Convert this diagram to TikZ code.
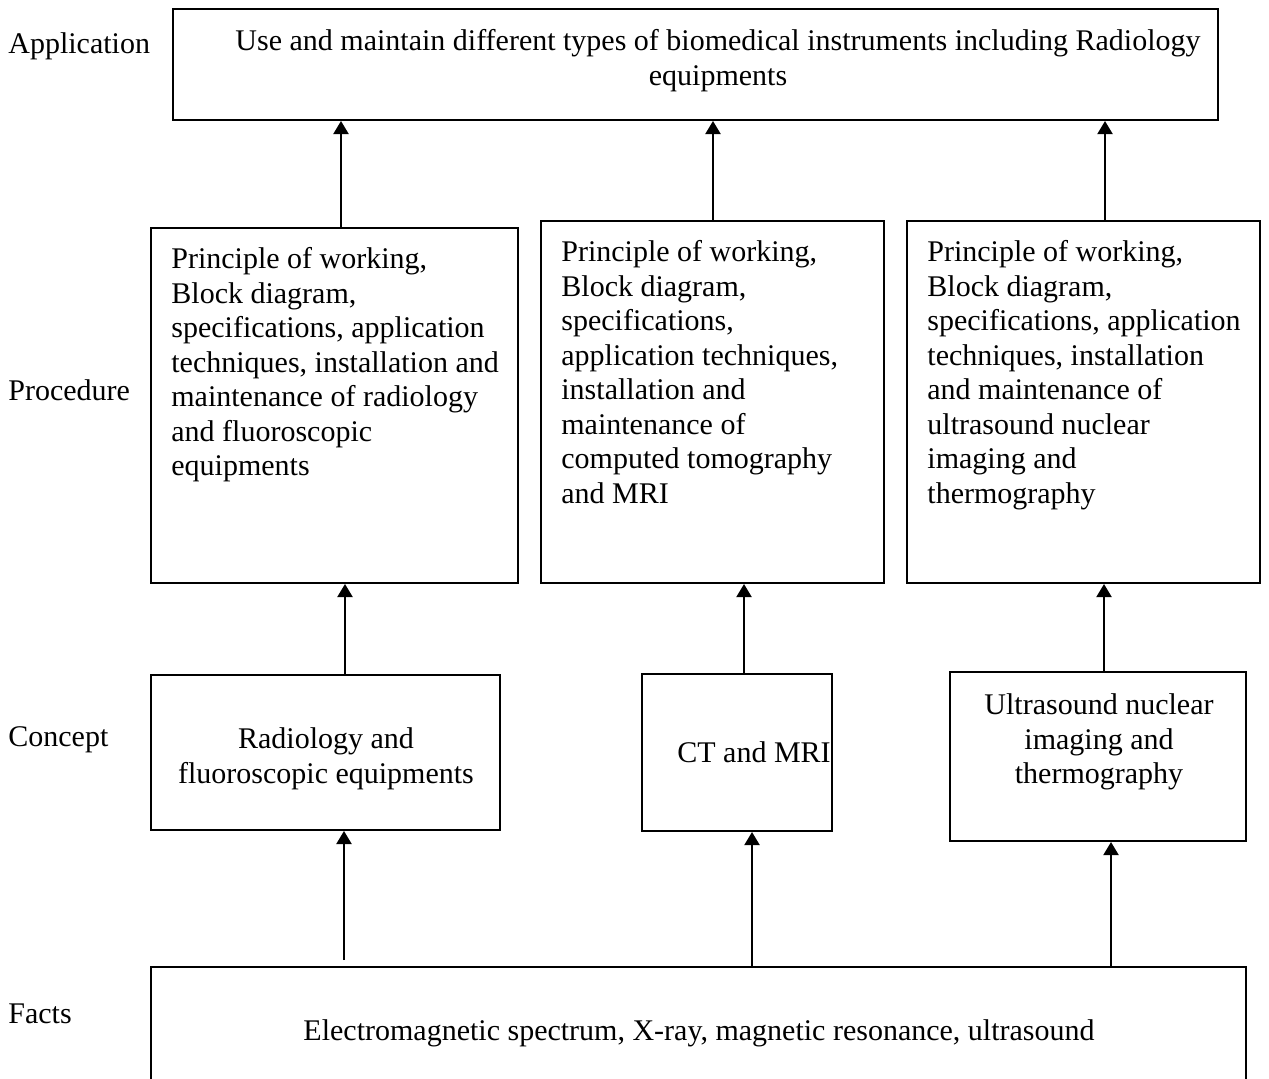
\documentclass[tikz,border=0pt]{standalone}
\usepackage{fontspec}
\setmainfont{Liberation Serif}
\usetikzlibrary{arrows.meta,fit}
\begin{document}
\begin{tikzpicture}[x=0.5pt,y=-0.5pt,
  box/.style={draw, line width=1pt, inner sep=0pt},
  arr/.style={line width=1pt, -{Triangle[length=6.5pt,width=7.5pt]}},
  txt/.style={inner sep=0pt, font=\fontsize{15}{17.25}\selectfont},
  lefttxt/.style={txt, anchor=north west, align=left},
  ctrtxt/.style={txt, anchor=north, align=center},
  lbl/.style={txt, anchor=base west}]
\useasboundingbox (0,0) rectangle (1269,1078);
\clip (0,0) rectangle (1269,1078);

% row labels
\node[lbl] (lapp) at (8,53) {Application};
\node[lbl] (lproc) at (8,400) {Procedure};
\node[lbl] (lconc) at (8,746) {Concept};
\node[lbl] (lfact) at (8,1023) {Facts};

% boxes
\node[box, fit={(173,9) (1218,120)}] (app) {};
\node[box, fit={(151,228) (518,583)}] (p1) {};
\node[box, fit={(541,221) (884,583)}] (p2) {};
\node[box, fit={(907,221) (1260,583)}] (p3) {};
\node[box, fit={(151,675) (500,830)}] (k1) {};
\node[box, fit={(642,674) (832,831)}] (k2) {};
\node[box, fit={(950,672) (1246,841)}] (k3) {};
\node[box, fit={(151,967) (1246,1120)}] (facts) {};

% texts
\node[ctrtxt] (tapp) at (718,26) {\strut Use and maintain different types of biomedical instruments including Radiology\\equipments};
\node[lefttxt] (tp1) at (171,244) {\strut Principle of working,\\Block diagram,\\specifications, application\\techniques, installation and\\maintenance of radiology\\and fluoroscopic\\equipments};
\node[lefttxt] (tp2) at (561,237) {\strut Principle of working,\\Block diagram,\\specifications,\\application techniques,\\installation and\\maintenance of\\computed tomography\\and MRI};
\node[lefttxt] (tp3) at (927,237) {\strut Principle of working,\\Block diagram,\\specifications, application\\techniques, installation\\and maintenance of\\ultrasound nuclear\\imaging and\\thermography};
\node[ctrtxt] (tk1) at (326,724) {\strut Radiology and\\fluoroscopic equipments};
\node[ctrtxt] (tk2) at (754,738) {\strut CT and MRI};
\node[ctrtxt] (tk3) at (1099,690) {\strut Ultrasound nuclear\\imaging and\\thermography};
\node[ctrtxt] (tf) at (699,1016) {\strut Electromagnetic spectrum, X-ray, magnetic resonance, ultrasound};

% arrow columns
\coordinate (a1) at (341,0);
\coordinate (a2) at (713,0);
\coordinate (a3) at (1105,0);
\coordinate (b1) at (345,0);
\coordinate (b2) at (744,0);
\coordinate (b3) at (1104,0);
\coordinate (c1) at (344,0);
\coordinate (c2) at (752,0);
\coordinate (c3) at (1111,0);

\draw[arr] (p1.north -| a1) -- (app.south -| a1);
\draw[arr] (p2.north -| a2) -- (app.south -| a2);
\draw[arr] (p3.north -| a3) -- (app.south -| a3);
\draw[arr] (k1.north -| b1) -- (p1.south -| b1);
\draw[arr] (k2.north -| b2) -- (p2.south -| b2);
\draw[arr] (k3.north -| b3) -- (p3.south -| b3);
\draw[arr, shorten <=3pt] (facts.north -| c1) -- (k1.south -| c1);
\draw[arr] (facts.north -| c2) -- (k2.south -| c2);
\draw[arr] (facts.north -| c3) -- (k3.south -| c3);
\end{tikzpicture}
\end{document}
